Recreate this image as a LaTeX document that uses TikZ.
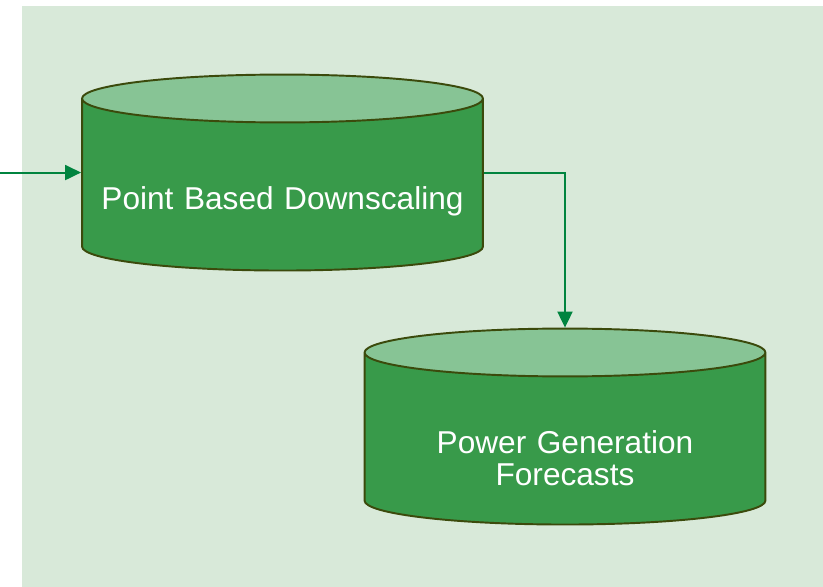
\documentclass[tikz,border=0pt]{standalone}
\usepackage{fontspec}
\setmainfont{Liberation Sans}
\usetikzlibrary{arrows.meta, shapes.geometric}
\definecolor{bgGreen}{HTML}{D8E9D9}
\definecolor{bodyGreen}{HTML}{389A4A}
\definecolor{capGreen}{HTML}{87C495}
\definecolor{rimOlive}{HTML}{3B4A0C}
\definecolor{lineGreen}{HTML}{00843F}

\begin{document}
\begin{tikzpicture}[
  x=0.02cm, y=-0.02cm,
  store/.style={
    cylinder,
    shape border rotate=90,
    aspect=0.126,
    draw=rimOlive,
    line width=1.1pt,
    cylinder uses custom fill,
    cylinder body fill=bodyGreen,
    cylinder end fill=capGreen,
    minimum width=8.02cm,
    minimum height=3.92cm,
    inner sep=0pt,
    text width=7.6cm,
    align=center,
    text=white,
    text depth=0pt,
    font=\fontsize{18}{18.2}\selectfont
  },
  arrow/.style={-{Triangle[length=3.2mm, width=3mm]}, line width=1.1pt, draw=lineGreen}
]
  \useasboundingbox (0,0) rectangle (823,587);
  \fill[bgGreen] (22,6) rectangle (823,587);

  \node[store, text height=27.7pt] (pbd) at (282.5,185) {Point Based Downscaling};
  \node[store, text height=16.3pt] (pgf) at (565,439) {Power Generation\\Forecasts};
  \coordinate (feed) at (0,0 |- pbd.shape center);

  \draw[arrow] (feed) -- (pbd.shape center -| pbd.west);
  \draw[arrow] (pbd.shape center -| pbd.east) -| (pgf.north);
\end{tikzpicture}
\end{document}
